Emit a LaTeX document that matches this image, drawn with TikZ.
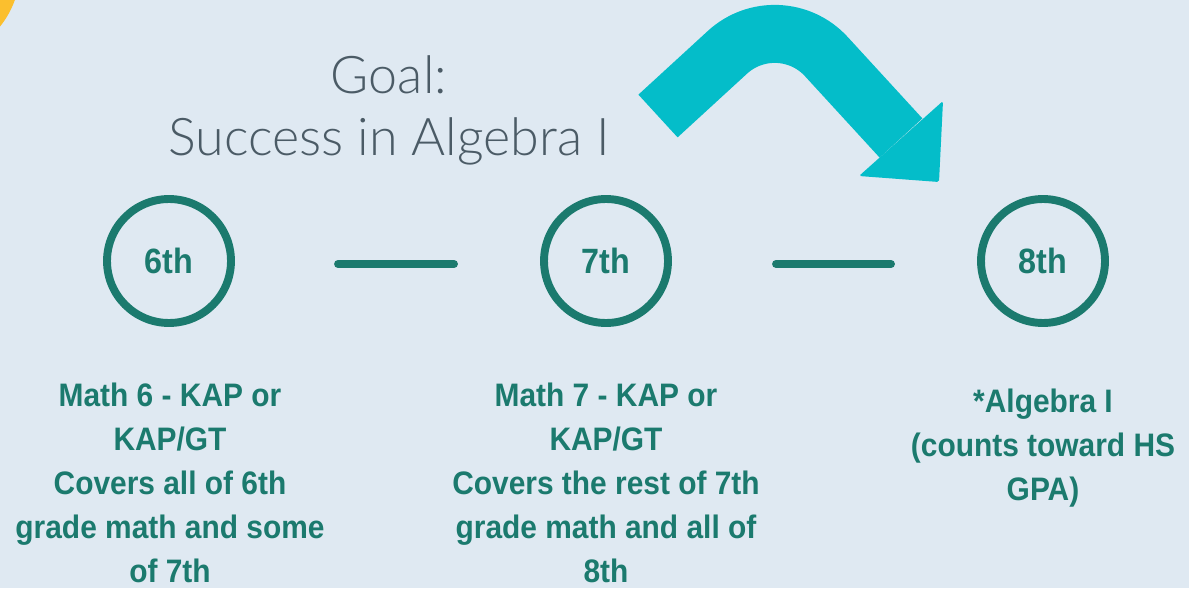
\documentclass[tikz,border=0pt]{standalone}
\usepackage{fontspec}
\setmainfont{Liberation Sans}[FakeStretch=0.92]
\newfontfamily\titlefont{Lato Light}
\usetikzlibrary{positioning}
\definecolor{bgblue}{HTML}{DFE9F2}
\definecolor{gradeteal}{HTML}{1B7A6E}
\definecolor{jumpcyan}{HTML}{04BDC9}
\definecolor{titlegray}{HTML}{4B5B66}
\definecolor{sunyellow}{HTML}{FBBF2E}
\tikzset{grade ring/.style={circle, draw=gradeteal, line width=4.5pt, minimum size=2.48cm, inner sep=0pt, text=gradeteal, font=\bfseries\fontsize{20}{24}\selectfont}}
\tikzset{grade link/.style={draw=gradeteal, line width=4.5pt, line cap=round}}
\tikzset{course text/.style={align=center, text=gradeteal, inner sep=0pt, font=\bfseries\fontsize{18.5}{25}\selectfont}}
\tikzset{goal text/.style={align=center, text=titlegray, inner sep=0pt, font=\titlefont\fontsize{29.6}{35.2}\selectfont}}
\newcommand{\gradelabel}[1]{\raisebox{-0.1cm}{#1}}

\begin{document}
\begin{tikzpicture}[x=0.02cm,y=-0.02cm]
		\useasboundingbox (0,0) rectangle (1189,588);
		\fill[bgblue] (0,0) rectangle (1189,588);
		\begin{scope}
			\clip (0,0) rectangle (1189,588);
			\fill[sunyellow] (-70,-30) circle[radius=1.8cm];
		\end{scope}

		\node[goal text] (goal) at (389,110) {Goal:\\Success in Algebra I};

		% jump arrow over 7th grade
		\coordinate (jumpA) at (658,116);
		\coordinate (jumpB) at (779,5);
		\coordinate (jumpC) at (901,138);
		\draw[jumpcyan, line width=33pt, rounded corners=1.4cm] (jumpA) -- (jumpB) -- (jumpC);
		\fill[jumpcyan, rounded corners=1pt] (943,101) -- (939,182) -- (859,176) -- cycle;

		\node[grade ring] (g6) at (169,261) {\gradelabel{6th}};
		\node[grade ring] (g7) at (606,261) {\gradelabel{7th}};
		\node[grade ring] (g8) at (1043,261) {\gradelabel{8th}};

		\coordinate (l1a) at (338,264);
		\coordinate (l1b) at (454,264);
		\coordinate (l2a) at (776,264);
		\coordinate (l2b) at (891,264);
		\draw[grade link] (l1a) -- (l1b);
		\draw[grade link] (l2a) -- (l2b);

		\node[course text] (c6) at (170,483) {Math 6 - KAP or\\KAP/GT\\Covers all of 6th\\grade math and some\\of 7th};
		\node[course text] (c7) at (606,483) {Math 7 - KAP or\\KAP/GT\\Covers the rest of 7th\\grade math and all of\\8th};
		\node[course text] (c8) at (1043,448) {*Algebra I\\(counts toward HS\\GPA)};
	\end{tikzpicture}
\end{document}
